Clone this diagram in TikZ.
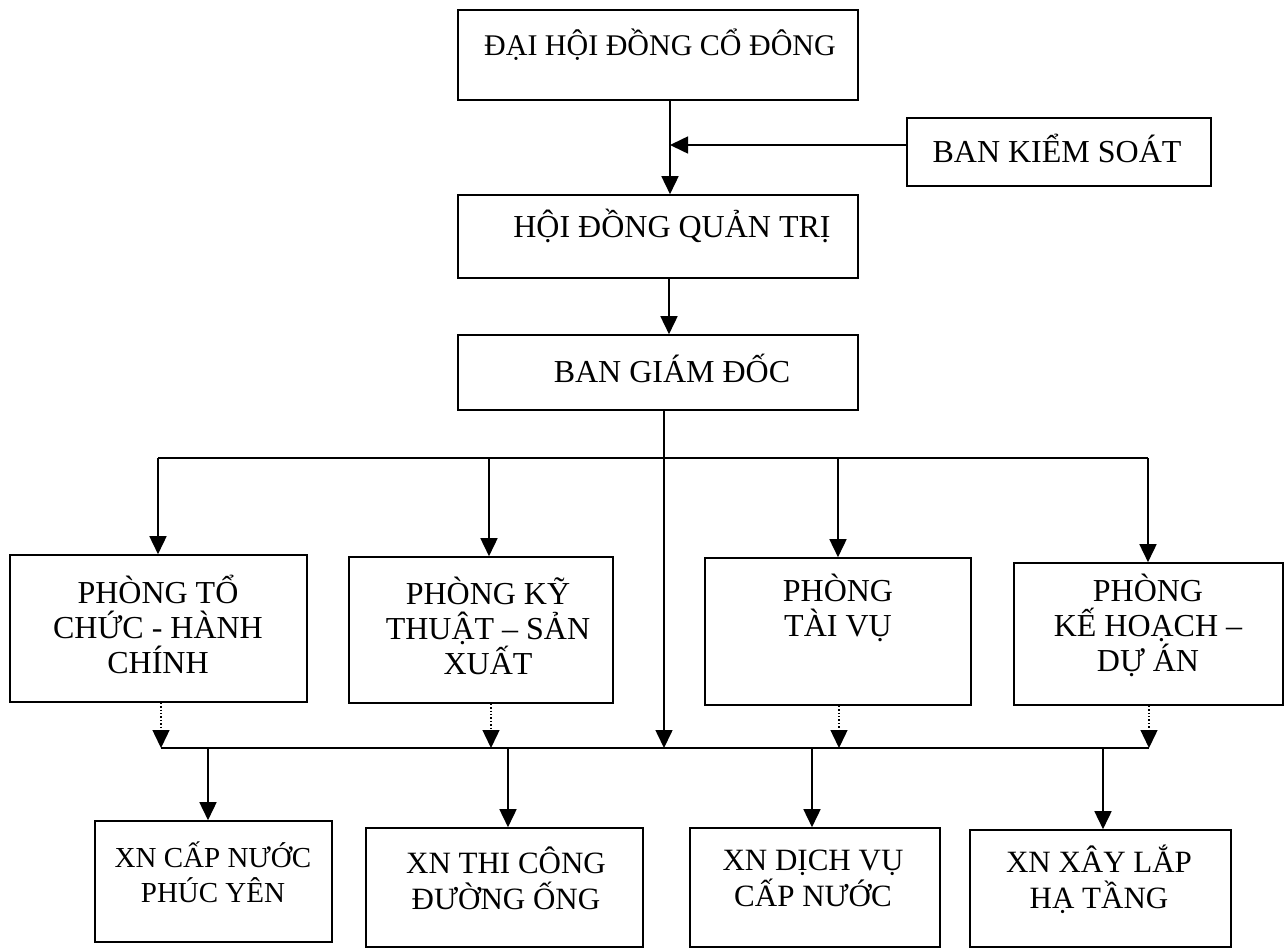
\documentclass[tikz,border=0pt]{standalone}
\usepackage{fontspec}
\setmainfont{Liberation Serif}
\usetikzlibrary{arrows.meta}
\begin{document}
\begin{tikzpicture}[x=1pt,y=-1pt,
  box/.style={draw=black,line width=1.6pt,rectangle,inner sep=0pt},
  lbl/.style={align=center,font=\fontsize{32}{35}\selectfont,inner sep=0pt},
  tlbl/.style={align=center,font=\fontsize{30}{35}\selectfont,inner sep=0pt},
  xlbl/.style={align=center,font=\fontsize{31}{36}\selectfont,inner sep=0pt},
  conn/.style={line width=1.6pt,draw=black},
  arr/.style={conn,-{Triangle[length=18pt,width=17pt]}},
  dotarr/.style={line width=1.4pt,draw=black,dotted,-{Triangle[length=18pt,width=17pt]}}]
\useasboundingbox (0,0) rectangle (1285,948);
\fill[white] (0,0) rectangle (1285,948);
% boxes
\node[box,minimum width=400pt,minimum height=90pt] (dh) at (658,55) {};
\node[box,minimum width=304pt,minimum height=68pt] (bks) at (1059,152) {};
\node[box,minimum width=400pt,minimum height=83pt] (hd) at (658,236.5) {};
\node[box,minimum width=400pt,minimum height=75pt] (bgd) at (658,372.5) {};
\node[box,minimum width=297pt,minimum height=147pt] (ptc) at (158.5,628.5) {};
\node[box,minimum width=264pt,minimum height=146pt] (pkt) at (481,630) {};
\node[box,minimum width=266pt,minimum height=147pt] (ptv) at (838,631.5) {};
\node[box,minimum width=269pt,minimum height=142pt] (pkh) at (1148.5,634) {};
\node[box,minimum width=237pt,minimum height=121pt] (xn1) at (213.5,881.5) {};
\node[box,minimum width=277pt,minimum height=119pt] (xn2) at (504.5,887.5) {};
\node[box,minimum width=250pt,minimum height=119pt] (xn3) at (815,887.5) {};
\node[box,minimum width=261pt,minimum height=117pt] (xn4) at (1100.5,888.5) {};
% labels
\node[tlbl] (tdh) at (660,45) {ĐẠI HỘI ĐỒNG CỔ ĐÔNG};
\node[lbl] (tbks) at (1057,148) {BAN KIỂM SOÁT};
\node[lbl] (thd) at (672,226) {HỘI ĐỒNG QUẢN TRỊ};
\node[lbl] (tbgd) at (672,368) {BAN GIÁM ĐỐC};
\node[lbl] (tptc) at (158,624) {PHÒNG TỔ\\CHỨC - HÀNH\\CHÍNH};
\node[lbl] (tpkt) at (488,626) {PHÒNG KỸ\\THUẬT – SẢN\\XUẤT};
\node[lbl] (tptv) at (838,608) {PHÒNG\\TÀI VỤ};
\node[lbl] (tpkh) at (1148,625) {PHÒNG\\KẾ HOẠCH –\\DỰ ÁN};
\node[xlbl,font=\fontsize{29}{35}\selectfont] (txn1) at (213,872) {XN CẤP NƯỚC\\PHÚC YÊN};
\node[xlbl] (txn2) at (506,878) {XN THI CÔNG\\ĐƯỜNG ỐNG};
\node[xlbl] (txn3) at (813,878) {XN DỊCH VỤ\\CẤP NƯỚC};
\node[xlbl] (txn4) at (1099,879) {XN XÂY LẮP\\HẠ TẦNG};
% bus coordinates
\coordinate (tbL) at (158,458);
\coordinate (tbR) at (1148,458);
\coordinate (bbL) at (161,748);
\coordinate (bbR) at (1149,748);
\coordinate (vdh) at ([xshift=12pt]dh.south);
% top chain
\draw[arr] (vdh) -- ([xshift=12pt]hd.north);
\draw[arr] ([yshift=7pt]bks.west) -- ([yshift=7pt]bks.west -| vdh);
\draw[arr] ([xshift=11pt]hd.south) -- ([xshift=11pt]bgd.north);
\draw[arr] ([xshift=6pt]bgd.south) -- ([xshift=6pt]bgd.south |- bbL);
% top bus
\draw[conn] (tbL) -- (tbR);
\draw[arr] (tbL) -- (tbL |- ptc.north);
\draw[arr] ([xshift=8pt]pkt.north |- tbL) -- ([xshift=8pt]pkt.north);
\draw[arr] (ptv.north |- tbL) -- (ptv.north);
\draw[arr] (tbR) -- (tbR |- pkh.north);
% bottom bus
\draw[conn] (bbL) -- (bbR);
\draw[dotarr] ([xshift=2.5pt]ptc.south) -- ([xshift=2.5pt]ptc.south |- bbL);
\draw[dotarr] ([xshift=10pt]pkt.south) -- ([xshift=10pt]pkt.south |- bbL);
\draw[dotarr] ([xshift=1pt]ptv.south) -- ([xshift=1pt]ptv.south |- bbL);
\draw[dotarr] ([xshift=0.5pt]pkh.south) -- ([xshift=0.5pt]pkh.south |- bbL);
\draw[arr] ([xshift=-5.5pt]xn1.north |- bbL) -- ([xshift=-5.5pt]xn1.north);
\draw[arr] ([xshift=3.5pt]xn2.north |- bbL) -- ([xshift=3.5pt]xn2.north);
\draw[arr] ([xshift=-3pt]xn3.north |- bbL) -- ([xshift=-3pt]xn3.north);
\draw[arr] ([xshift=2.5pt]xn4.north |- bbL) -- ([xshift=2.5pt]xn4.north);
\end{tikzpicture}
\end{document}
